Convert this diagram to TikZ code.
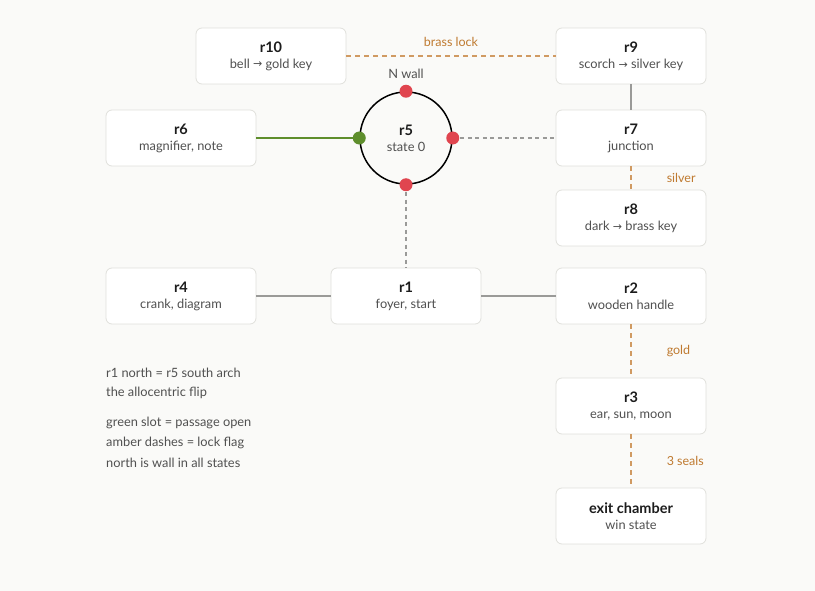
\documentclass[tikz,border=0pt]{standalone}
\usepackage{fontspec}
\setmainfont{Lato}
\newfontfamily\arrowfont{DejaVu Sans}
\definecolor{bg}{HTML}{FAFAF8}
\definecolor{boxline}{HTML}{E0E0DC}
\definecolor{ttl}{HTML}{1C1C1C}
\definecolor{sub}{HTML}{505050}
\definecolor{amber}{HTML}{BF7A30}
\definecolor{amberline}{HTML}{D09A62}
\definecolor{grayline}{HTML}{9A9A98}
\definecolor{greenc}{HTML}{5E8E2C}
\definecolor{redc}{HTML}{E0454F}
\newcommand{\myarr}{{\arrowfont\fontsize{11}{12}\selectfont\raisebox{0.2pt}{→}}}
\tikzset{
  room/.style={draw=boxline, line width=0.8pt, fill=white, rounded corners=6pt,
    minimum width=150pt, minimum height=56pt, inner sep=0pt, align=center},
  solidc/.style={draw=grayline, line width=1.2pt},
  grayd/.style={draw=grayline, line width=1.2pt, dash pattern=on 4pt off 3.5pt},
  amberd/.style={draw=amberline, line width=1.5pt, dash pattern=on 5pt off 4pt},
  greenl/.style={draw=greenc, line width=1.5pt},
  lbl/.style={text=amber, font=\fontsize{12.5}{14}\selectfont},
  sidelbl/.style={lbl, anchor=west, inner sep=0pt, xshift=35pt},
  note/.style={text=sub, font=\fontsize{12.8}{14}\selectfont, anchor=west, inner sep=0pt},
  dot/.style={circle, inner sep=0pt, minimum size=13pt},
}
\newcommand{\roomtext}[2]{{\fontsize{14.5}{16}\selectfont\bfseries\color{ttl}#1}\\[4pt]{\fontsize{12.8}{14}\selectfont\color{sub}#2}}
\begin{document}
\begin{tikzpicture}[x=1pt,y=-1pt]
\fill[bg] (0,0) rectangle (815,591);
\useasboundingbox (0,0) rectangle (815,591);

\node[room] (r10) at (271,56) {\roomtext{r10}{bell \myarr{} gold key}};
\node[room] (r9) at (631,56) {\roomtext{r9}{scorch \myarr{} silver key}};
\node[room] (r6) at (181,138) {\roomtext{r6}{magnifier, note}};
\node[room] (r7) at (631,138) {\roomtext{r7}{junction}};
\node[room] (r8) at (631,218) {\roomtext{r8}{dark \myarr{} brass key}};
\node[room] (r4) at (181,296) {\roomtext{r4}{crank, diagram}};
\node[room] (r1) at (406,296) {\roomtext{r1}{foyer, start}};
\node[room] (r2) at (631,296) {\roomtext{r2}{wooden handle}};
\node[room] (r3) at (631,406) {\roomtext{r3}{ear, sun, moon}};
\node[room] (exit) at (631,516) {\roomtext{exit chamber}{win state}};

\node[circle, draw=black, line width=1.5pt, minimum size=92pt, inner sep=0pt, align=center] (r5) at (406,138) {\roomtext{r5}{state 0}};

% connectors
\draw[amberd] (r10.east) -- (r9.west) node[midway, above=5pt, lbl] {brass lock};
\draw[solidc] (r9.south) -- (r7.north);
\draw[greenl] (r6.east) -- (r5.west);
\draw[grayd] (r5.east) -- (r7.west);
\draw[amberd] (r7.south) -- (r8.north) node[midway, sidelbl] {silver};
\draw[grayd] (r5.south) -- (r1.north);
\draw[solidc] (r4.east) -- (r1.west);
\draw[solidc] (r1.east) -- (r2.west);
\draw[amberd] (r2.south) -- (r3.north) node[midway, sidelbl] {gold};
\draw[amberd] (r3.south) -- (exit.north) node[midway, sidelbl] {3 seals};

% port dots
\node[dot, fill=redc] (dn) at (r5.north) {};
\node[dot, fill=redc] (de) at (r5.east) {};
\node[dot, fill=redc] (ds) at (r5.south) {};
\node[dot, fill=greenc] (dw) at (r5.west) {};
\node[text=sub, font=\fontsize{12.8}{14}\selectfont] (nw) at (406,74) {N wall};

% notes
\node[note] (n1) at (106,373) {r1 north = r5 south arch};
\node[note] (n2) at (106,393) {the allocentric flip};
\node[note] (n3) at (106,423) {green slot = passage open};
\node[note] (n4) at (106,443) {amber dashes = lock flag};
\node[note] (n5) at (106,463) {north is wall in all states};
\end{tikzpicture}
\end{document}
